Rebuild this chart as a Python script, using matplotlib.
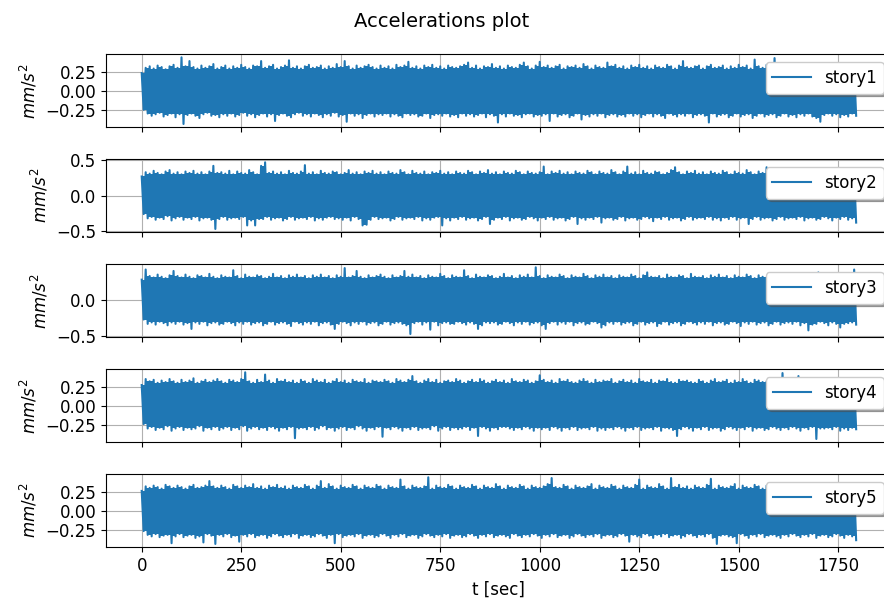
import matplotlib
matplotlib.use('Agg')
import matplotlib.pyplot as plt
import numpy as np

plt.rcParams['font.size'] = 12

# peak values of each 10 s window, in hundredths of mm/s^2
# hi = positive peak at t = 10*i, lo = size of negative peak at t = 10*i + 5
story1_hi = [24, 31, 33, 30, 34, 32, 29, 33, 35, 31, 45, 33, 40, 32, 30, 34, 31, 33, 36, 30,
             32, 34, 30, 33, 31, 35, 32, 30, 34, 33, 40, 31, 33, 35, 30, 32, 34, 41, 31, 33,
             30, 33, 35, 31, 32, 34, 30, 33, 31, 36, 32, 40, 33, 30, 34, 31, 33, 35, 32, 30,
             34, 31, 33, 30, 35, 32, 34, 39, 31, 33, 30, 34, 32, 35, 31, 33, 30, 34, 32, 31,
             33, 35, 38, 31, 34, 30, 33, 32, 36, 31, 33, 30, 34, 32, 31, 35, 38, 33, 30, 34,
             39, 32, 34, 31, 33, 35, 30, 33, 32, 34, 31, 36, 33, 30, 34, 32, 31, 38, 33, 35,
             31, 33, 30, 34, 32, 35, 31, 33, 30, 34, 32, 31, 35, 33, 30, 34, 40, 32, 31, 33,
             34, 30, 33, 35, 31, 32, 34, 30, 33, 31, 35, 32, 34, 30, 42, 33, 31, 35, 32, 44,
             31, 33, 34, 30, 32, 35, 31, 33, 30, 34, 32, 31, 35, 33, 30, 34, 32, 31, 33, 30]
story1_lo = [25, 30, 33, 31, 29, 34, 32, 30, 35, 31, 44, 32, 30, 33, 36, 31, 29, 33, 32, 35,
             31, 33, 30, 34, 32, 29, 33, 31, 35, 32, 30, 34, 31, 40, 32, 30, 33, 35, 31, 29,
             33, 31, 34, 30, 32, 35, 31, 33, 29, 34, 32, 41, 30, 33, 31, 36, 32, 30, 34, 31,
             32, 30, 34, 31, 33, 35, 30, 32, 31, 34, 33, 30, 36, 32, 31, 33, 30, 34, 32, 35,
             30, 33, 31, 34, 32, 30, 35, 31, 33, 42, 31, 34, 30, 33, 32, 35, 31, 30, 34, 32,
             33, 31, 40, 30, 34, 32, 31, 35, 33, 30, 38, 32, 34, 31, 33, 30, 35, 32, 31, 34,
             32, 34, 30, 33, 31, 35, 32, 30, 34, 31, 33, 36, 30, 32, 34, 31, 33, 30, 35, 32,
             31, 33, 42, 30, 34, 32, 31, 35, 33, 30, 34, 32, 31, 36, 33, 30, 34, 32, 31, 35,
             33, 30, 34, 32, 35, 31, 33, 30, 34, 36, 41, 32, 30, 33, 31, 35, 32, 34, 30, 33]

story2_hi = [27, 33, 31, 35, 32, 30, 34, 36, 31, 33, 30, 34, 32, 35, 31, 33, 30, 34, 42, 32,
             33, 31, 35, 30, 34, 32, 31, 36, 33, 30, 42, 47, 32, 34, 31, 33, 30, 35, 32, 31,
             34, 43, 31, 33, 30, 35, 32, 31, 34, 33, 30, 32, 36, 31, 33, 30, 34, 32, 35, 31,
             33, 30, 34, 32, 31, 36, 33, 30, 35, 32, 31, 34, 30, 33, 32, 35, 31, 33, 30, 34,
             32, 31, 35, 33, 30, 34, 32, 36, 31, 33, 30, 34, 32, 31, 35, 33, 30, 34, 32, 31,
             33, 41, 30, 34, 32, 35, 31, 33, 30, 34, 32, 31, 35, 33, 30, 34, 32, 31, 36, 33,
             30, 34, 41, 31, 33, 30, 35, 32, 31, 34, 33, 30, 32, 36, 40, 33, 30, 34, 32, 35,
             31, 33, 30, 34, 32, 31, 35, 33, 30, 34, 32, 31, 36, 33, 30, 34, 32, 40, 31, 33,
             30, 34, 32, 31, 35, 33, 30, 34, 32, 31, 33, 30, 34, 32, 35, 31, 33, 30, 34, 32]
story2_lo = [26, 32, 30, 34, 31, 33, 29, 35, 32, 30, 34, 31, 33, 30, 35, 32, 31, 34, 47, 33,
             30, 34, 32, 31, 33, 30, 42, 35, 42, 33, 33, 30, 34, 32, 31, 35, 33, 30, 34, 32,
             31, 33, 30, 35, 32, 34, 31, 30, 33, 32, 34, 31, 35, 30, 33, 42, 41, 34, 30, 33,
             32, 31, 35, 33, 30, 34, 32, 31, 33, 30, 35, 32, 34, 31, 30, 42, 32, 35, 31, 33,
             30, 34, 32, 31, 35, 33, 30, 40, 34, 31, 33, 30, 35, 32, 31, 34, 33, 30, 32, 35,
             31, 33, 30, 34, 32, 31, 35, 33, 30, 40, 32, 34, 31, 33, 30, 38, 32, 31, 34, 33,
             30, 35, 32, 31, 34, 33, 30, 32, 36, 31, 33, 30, 34, 32, 31, 35, 33, 30, 34, 32,
             31, 33, 30, 34, 32, 35, 31, 33, 30, 34, 32, 31, 40, 33, 30, 34, 32, 31, 35, 33,
             30, 34, 32, 31, 33, 30, 35, 32, 31, 34, 33, 30, 32, 35, 31, 33, 30, 34, 32, 38]

story3_hi = [28, 42, 33, 31, 35, 32, 30, 34, 40, 33, 31, 35, 32, 30, 34, 33, 31, 36, 32, 30,
             34, 32, 31, 41, 33, 30, 35, 32, 31, 34, 33, 30, 32, 36, 31, 33, 30, 34, 32, 35,
             31, 33, 30, 34, 32, 35, 31, 33, 30, 34, 32, 44, 31, 33, 40, 32, 30, 34, 31, 33,
             35, 32, 30, 34, 31, 33, 40, 32, 35, 31, 33, 30, 34, 32, 31, 36, 33, 30, 34, 32,
             31, 41, 33, 30, 35, 32, 31, 34, 33, 30, 32, 36, 31, 33, 30, 34, 32, 35, 31, 45,
             33, 30, 34, 32, 31, 35, 33, 30, 34, 32, 31, 36, 33, 30, 34, 32, 35, 31, 33, 30,
             34, 32, 31, 35, 33, 30, 34, 38, 32, 31, 33, 30, 35, 32, 31, 34, 33, 30, 36, 32,
             31, 33, 30, 34, 32, 35, 31, 33, 30, 34, 32, 31, 35, 33, 30, 34, 32, 31, 33, 35,
             30, 34, 32, 31, 33, 30, 35, 32, 31, 34, 38, 33, 30, 34, 32, 31, 35, 33, 30, 42]
story3_lo = [27, 33, 31, 34, 30, 32, 35, 31, 33, 30, 34, 32, 40, 31, 33, 30, 35, 32, 31, 34,
             33, 30, 32, 35, 31, 33, 30, 34, 32, 31, 35, 33, 30, 34, 32, 31, 33, 36, 30, 32,
             34, 31, 33, 30, 35, 32, 31, 34, 40, 33, 30, 32, 35, 31, 33, 30, 34, 32, 31, 35,
             33, 30, 34, 32, 31, 33, 35, 47, 32, 30, 34, 31, 41, 30, 35, 32, 31, 33, 33, 30,
             32, 34, 31, 33, 40, 35, 31, 32, 31, 34, 33, 30, 32, 35, 31, 33, 30, 34, 32, 31,
             35, 40, 32, 30, 34, 31, 33, 30, 35, 32, 31, 34, 33, 30, 32, 38, 35, 31, 33, 30,
             34, 32, 31, 35, 33, 30, 34, 32, 31, 36, 33, 30, 34, 32, 31, 35, 33, 30, 32, 34,
             31, 33, 30, 35, 32, 31, 34, 33, 30, 32, 36, 31, 33, 30, 34, 32, 31, 35, 33, 30,
             34, 32, 31, 33, 30, 35, 32, 42, 34, 33, 30, 32, 35, 31, 33, 38, 33, 32, 31, 34]

story4_hi = [28, 36, 33, 35, 31, 34, 32, 36, 33, 31, 35, 32, 34, 37, 31, 33, 35, 32, 34, 36,
             33, 31, 35, 34, 32, 36, 45, 33, 31, 35, 32, 42, 34, 31, 36, 33, 35, 32, 34, 31,
             35, 33, 31, 36, 34, 32, 35, 31, 33, 36, 32, 34, 31, 35, 33, 32, 36, 31, 34, 33,
             32, 35, 33, 31, 36, 34, 32, 35, 40, 33, 31, 34, 36, 32, 35, 31, 33, 34, 32, 36,
             34, 31, 33, 35, 32, 36, 34, 31, 33, 35, 32, 34, 31, 36, 33, 32, 35, 34, 31, 33,
             41, 35, 32, 34, 31, 36, 33, 35, 32, 31, 34, 36, 33, 31, 35, 32, 34, 33, 36, 31,
             33, 35, 32, 34, 31, 36, 33, 32, 35, 31, 34, 33, 36, 32, 31, 35, 33, 34, 32, 31,
             35, 33, 31, 34, 36, 32, 33, 35, 31, 34, 32, 36, 33, 31, 35, 34, 32, 33, 36, 31,
             34, 44, 32, 35, 31, 40, 33, 34, 32, 36, 31, 33, 35, 32, 34, 31, 33, 35, 32, 34]
story4_lo = [24, 30, 28, 32, 29, 31, 27, 33, 30, 28, 32, 29, 31, 30, 27, 33, 29, 31, 28, 32,
             30, 28, 32, 29, 31, 27, 33, 30, 28, 31, 29, 32, 28, 30, 33, 29, 31, 28, 43, 30,
             29, 31, 28, 32, 30, 27, 31, 29, 33, 30, 28, 32, 29, 31, 27, 30, 33, 29, 31, 28,
             41, 29, 31, 28, 30, 33, 29, 31, 28, 32, 30, 29, 31, 27, 33, 30, 28, 32, 29, 31,
             30, 28, 32, 29, 40, 28, 30, 33, 29, 31, 28, 28, 30, 32, 29, 31, 28, 30, 33, 29,
             31, 29, 32, 28, 30, 33, 29, 31, 28, 32, 30, 29, 31, 28, 33, 30, 32, 29, 31, 28,
             30, 33, 29, 31, 28, 32, 30, 29, 31, 28, 33, 29, 30, 32, 40, 31, 28, 30, 33, 29,
             31, 28, 32, 30, 29, 33, 31, 28, 30, 32, 29, 31, 28, 33, 30, 29, 32, 31, 28, 30,
             32, 29, 31, 28, 30, 33, 29, 31, 28, 44, 30, 30, 29, 31, 28, 33, 30, 32, 29, 31]

story5_hi = [27, 33, 31, 34, 32, 30, 35, 33, 31, 34, 32, 30, 33, 35, 31, 32, 34, 40, 33, 31,
             34, 32, 30, 35, 33, 31, 34, 32, 36, 31, 33, 30, 34, 32, 35, 31, 33, 30, 34, 32,
             31, 35, 33, 30, 34, 40, 31, 36, 33, 30, 34, 32, 31, 35, 33, 30, 34, 32, 31, 35,
             33, 30, 34, 32, 31, 42, 33, 30, 34, 32, 31, 33, 45, 30, 34, 32, 31, 35, 33, 30,
             34, 32, 31, 35, 33, 30, 34, 32, 31, 36, 33, 30, 34, 32, 31, 35, 33, 30, 34, 32,
             31, 33, 36, 44, 32, 31, 35, 33, 30, 34, 32, 31, 33, 36, 30, 34, 32, 31, 35, 33,
             30, 34, 32, 31, 35, 42, 30, 34, 32, 31, 36, 33, 30, 44, 32, 35, 31, 33, 30, 34,
             32, 31, 35, 43, 30, 34, 32, 31, 33, 36, 30, 34, 32, 31, 35, 33, 30, 34, 32, 31,
             33, 35, 30, 34, 32, 31, 36, 33, 30, 34, 32, 35, 31, 33, 30, 34, 32, 31, 35, 33]
story5_lo = [26, 31, 33, 30, 34, 32, 31, 42, 33, 30, 34, 32, 31, 35, 33, 41, 30, 32, 43, 31,
             33, 30, 34, 32, 40, 31, 33, 30, 34, 32, 31, 35, 33, 30, 32, 34, 31, 33, 30, 35,
             32, 31, 34, 33, 30, 32, 35, 31, 42, 30, 34, 32, 31, 33, 30, 35, 32, 31, 34, 33,
             30, 32, 35, 31, 33, 30, 34, 32, 31, 35, 33, 30, 32, 34, 31, 33, 30, 35, 32, 31,
             34, 33, 30, 32, 35, 31, 33, 30, 34, 32, 31, 33, 35, 30, 32, 34, 31, 33, 30, 32,
             35, 31, 33, 30, 34, 32, 31, 35, 33, 30, 32, 34, 31, 33, 30, 35, 32, 31, 34, 33,
             30, 32, 40, 31, 33, 34, 30, 32, 35, 31, 33, 30, 34, 32, 31, 35, 33, 30, 32, 34,
             31, 33, 30, 35, 43, 32, 31, 33, 34, 42, 30, 32, 35, 31, 33, 30, 34, 32, 31, 33,
             35, 31, 33, 30, 32, 34, 31, 33, 30, 35, 32, 31, 34, 33, 30, 32, 35, 31, 33, 38]

stories = ['story1', 'story2', 'story3', 'story4', 'story5']
peaks = [(story1_hi, story1_lo), (story2_hi, story2_lo), (story3_hi, story3_lo),
         (story4_hi, story4_lo), (story5_hi, story5_lo)]
dt = 10  # seconds between positive peaks


def signal(hi, lo):
    # alternate positive and negative peaks
    hi = np.array(hi) / 100
    lo = np.array(lo) / 100
    n = len(hi)
    t_hi = np.arange(n) * dt
    t_lo = t_hi + dt / 2
    t = np.empty(2 * n)
    a = np.empty(2 * n)
    t[0::2] = t_hi
    t[1::2] = t_lo
    a[0::2] = hi
    a[1::2] = -lo
    return t, a, t_hi, t_lo, hi, lo


fig = plt.figure(figsize=(8.84, 6.04), dpi=100)
bottoms = [0.7892, 0.6154, 0.4415, 0.2677, 0.0939]
axes = []
for i, name in enumerate(stories):
    if i == 0:
        ax = fig.add_axes([0.1199, bottoms[i], 0.889, 0.1214])
    else:
        ax = fig.add_axes([0.1199, bottoms[i], 0.889, 0.1214], sharex=axes[0])
    t, a, t_hi, t_lo, hi, lo = signal(*peaks[i])
    # the dense part of the record between neighbouring peaks
    top = np.minimum(hi, np.append(hi[1:], hi[-1]))
    bot = np.minimum(lo, np.append(lo[1:], lo[-1]))
    ax.fill_between(t_hi, 0, top, step='post', color='C0', lw=0, zorder=2)
    ax.fill_between(t_lo, -bot, 0, step='post', color='C0', lw=0, zorder=2)
    ax.plot(t, a, color='C0', label=name, zorder=2)
    ax.grid(True)
    ax.set_ylabel('$mm/s^2$')
    ax.legend(loc='upper right', shadow=True, handlelength=2.3)
    if i < len(stories) - 1:
        ax.tick_params(labelbottom=False)
    axes.append(ax)

axes[-1].set_xlabel('t [sec]')
fig.suptitle('Accelerations plot', fontsize=14)

fig.savefig('out.png', dpi=100)
